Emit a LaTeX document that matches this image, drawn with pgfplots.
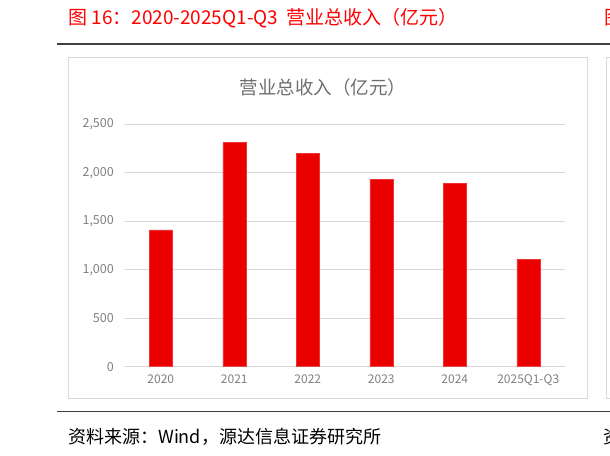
\documentclass[border=0pt]{standalone}
\usepackage{fontspec}
\setmainfont{Noto Sans CJK SC}
\usepackage{pgfplots}
\pgfplotsset{compat=1.18}
\definecolor{barred}{RGB}{235,0,0}
\definecolor{titlered}{RGB}{255,0,0}
\definecolor{gridgray}{RGB}{217,217,217}
\definecolor{ticktext}{RGB}{128,128,128}
\definecolor{charttitle}{RGB}{110,110,110}
\definecolor{rulegray}{RGB}{64,64,64}

\begin{document}
\begin{tikzpicture}
\useasboundingbox (0,0) rectangle (610bp,-456bp);
% report header and rules
\node[anchor=west, inner sep=0, text=titlered, font=\fontsize{19bp}{21bp}\selectfont]
  at (68bp,-18bp) {图 16：2020-2025Q1-Q3\ \ 营业总收入（亿元）};
\node[anchor=west, inner sep=0, text=titlered, font=\fontsize{19bp}{21bp}\selectfont]
  at (604bp,-18bp) {图};
\draw[rulegray, line width=1.5bp] (57bp,-44bp) -- (610bp,-44bp);
\draw[rulegray, line width=1.2bp] (57bp,-411.5bp) -- (610bp,-411.5bp);
\node[anchor=west, inner sep=0, font=\fontsize{18bp}{20bp}\selectfont]
  at (68bp,-437bp) {资料来源：Wind，源达信息证券研究所};
\node[anchor=west, inner sep=0, font=\fontsize{18bp}{20bp}\selectfont]
  at (603bp,-437bp) {资};
% chart frame
\draw[gridgray, line width=1bp] (68bp,-57bp) rectangle (587bp,-398bp);
\draw[gridgray, line width=1bp] (614bp,-57bp) -- (606bp,-57bp) -- (606bp,-398bp) -- (614bp,-398bp);
\node[text=charttitle, inner sep=0, font=\fontsize{18.5bp}{20bp}\selectfont]
  at (323bp,-87bp) {营业总收入（亿元）};

\begin{axis}[
    at={(124bp,-366.7bp)}, anchor=south west,
    scale only axis,
    width=441bp, height=242.4bp,
    xmin=-0.5, xmax=5.5,
    ymin=0, ymax=2500,
    ybar, bar width=23bp,
    axis line style={draw=none},
    ymajorgrids,
    grid style={gridgray, line width=1bp},
    major tick length=0pt,
    xtick={0,1,2,3,4,5},
    xticklabels={2020,2021,2022,2023,2024,2025Q1-Q3},
    ytick={0,500,1000,1500,2000,2500},
    /pgf/number format/assume math mode=true,
    /pgf/number format/1000 sep={,},
    yticklabel style={inner sep=0, anchor=east, xshift=-10bp,
      text=ticktext, font=\fontsize{12.5bp}{13bp}\selectfont},
    xticklabel style={inner sep=0, anchor=north, yshift=-8bp,
      text=ticktext, font=\fontsize{12bp}{13bp}\selectfont},
]
\addplot[fill=barred, draw=barred!80!white, bar shift=0pt]
  coordinates {(0,1410) (1,2314) (2,2204) (3,1932) (4,1894) (5,1107)};
\end{axis}
\end{tikzpicture}
\end{document}
